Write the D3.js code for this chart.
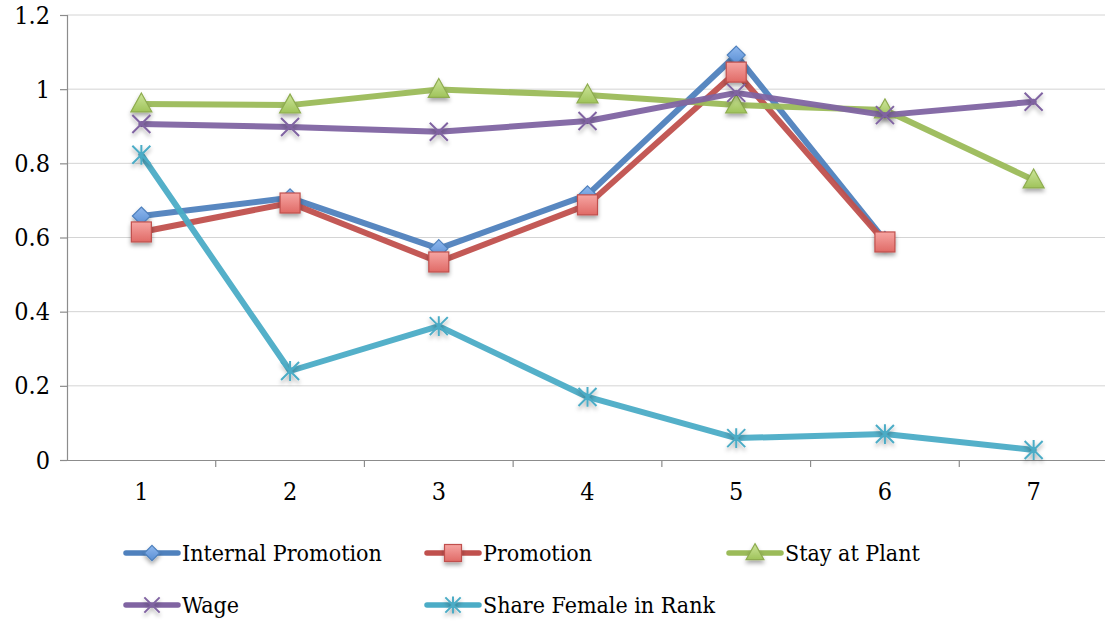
<!DOCTYPE html>
<html>
<head>
<meta charset="utf-8">
<script src="https://cdn.jsdelivr.net/npm/d3@7"></script>
<style>
  html, body { margin: 0; padding: 0; background: #ffffff; }
  svg { display: block; }
</style>
</head>
<body>
<svg id="chart" width="1105" height="621"></svg>
<script>
// Ranks along the horizontal axis
const ranks = [1, 2, 3, 4, 5, 6, 7];
const yTicks = [0, 0.2, 0.4, 0.6, 0.8, 1, 1.2];

// Series values by rank (null = no observation)
const internalPromotion = [0.658, 0.707, 0.570, 0.715, 1.092, 0.592, null];
const promotion         = [0.615, 0.693, 0.534, 0.688, 1.046, 0.588, null];
const stayAtPlant       = [0.960, 0.957, 0.999, 0.984, 0.957, 0.944, 0.755];
const wage              = [0.906, 0.898, 0.885, 0.914, 0.990, 0.930, 0.966];
const shareFemale       = [0.823, 0.240, 0.361, 0.170, 0.059, 0.070, 0.027];

const seriesNames = ["Internal Promotion", "Promotion", "Stay at Plant", "Wage", "Share Female in Rank"];
const seriesValues = [internalPromotion, promotion, stayAtPlant, wage, shareFemale];
const seriesColors = ["#4f81bd", "#c0504d", "#9bbb59", "#8064a2", "#4bacc6"];
const markerFillTop = ["#8fb8ee", "#f6a5a2", "#cde59a", null, null];
const markerFillBottom = ["#5a8fd4", "#e06a66", "#9fc35a", null, null];
const markerTypes = ["diamond", "square", "triangle", "x", "star"];

const FONT = "DejaVu Serif Condensed";

const svg = d3.select("#chart");
const margin = { left: 67, right: 1108, top: 15, bottom: 460 };

const x = d3.scaleBand().domain(ranks).range([margin.left, margin.right]).paddingInner(0).paddingOuter(0);
const y = d3.scaleLinear().domain([0, 1.2]).range([margin.bottom, margin.top]);
const cx = d => x(d) + x.bandwidth() / 2;

const defs = svg.append("defs");
const shadow = defs.append("filter").attr("id", "shadow")
  .attr("x", "-50%").attr("y", "-50%").attr("width", "200%").attr("height", "220%");
shadow.append("feDropShadow").attr("dx", 0).attr("dy", 3).attr("stdDeviation", 2)
  .attr("flood-color", "#000").attr("flood-opacity", 0.35);

seriesColors.forEach((c, i) => {
  if (!markerFillTop[i]) return;
  const g = defs.append("linearGradient").attr("id", "grad" + i)
    .attr("x1", 0).attr("y1", 0).attr("x2", 0).attr("y2", 1);
  g.append("stop").attr("offset", "0%").attr("stop-color", markerFillTop[i]);
  g.append("stop").attr("offset", "100%").attr("stop-color", markerFillBottom[i]);
});

// Horizontal gridlines
svg.append("g").selectAll("line").data(yTicks.filter(t => t > 0)).join("line")
  .attr("x1", margin.left).attr("x2", margin.right)
  .attr("y1", d => y(d)).attr("y2", d => y(d))
  .attr("stroke", "#d4d4d4").attr("stroke-width", 1);

// Y axis
const yAxis = svg.append("g").attr("transform", `translate(${margin.left},0)`)
  .call(d3.axisLeft(y).tickValues(yTicks).tickSize(7).tickPadding(10).tickFormat(d3.format("")));
yAxis.attr("font-family", FONT).attr("font-size", 25);
yAxis.select(".domain").attr("stroke", "#8c8c8c").attr("stroke-width", 1.2);
yAxis.selectAll(".tick line").attr("stroke", "#8c8c8c").attr("stroke-width", 1.2);
yAxis.selectAll(".tick text").attr("fill", "#000");

// X axis with ticks at category boundaries
const xAxis = svg.append("g").attr("transform", `translate(0,${margin.bottom})`)
  .call(d3.axisBottom(x).tickSize(0).tickPadding(22));
xAxis.attr("font-family", FONT).attr("font-size", 25);
xAxis.select(".domain").attr("stroke", "#8c8c8c").attr("stroke-width", 1.2);
xAxis.selectAll(".tick text").attr("fill", "#000");
xAxis.append("g").selectAll("line").data(ranks).join("line")
  .attr("x1", d => x(d) + x.bandwidth()).attr("x2", d => x(d) + x.bandwidth())
  .attr("y1", 0).attr("y2", 7)
  .attr("stroke", "#8c8c8c").attr("stroke-width", 1.2);

// Marker shapes
function drawMarker(g, type, i, px, py, s) {
  const col = seriesColors[i];
  if (type === "diamond") {
    const r = 9 * s;
    g.append("path").attr("d", `M${px},${py - r}L${px + r},${py}L${px},${py + r}L${px - r},${py}Z`)
      .attr("fill", `url(#grad${i})`).attr("stroke", col).attr("stroke-width", 1.2).attr("filter", "url(#shadow)");
  } else if (type === "square") {
    const r = 10 * s;
    g.append("rect").attr("x", px - r).attr("y", py - r).attr("width", 2 * r).attr("height", 2 * r)
      .attr("fill", `url(#grad${i})`).attr("stroke", col).attr("stroke-width", 1.2).attr("filter", "url(#shadow)");
  } else if (type === "triangle") {
    const r = 10.5 * s;
    g.append("path").attr("d", `M${px},${py - r * 1.05}L${px + r},${py + r * 0.75}L${px - r},${py + r * 0.75}Z`)
      .attr("fill", `url(#grad${i})`).attr("stroke", "#8eac4f").attr("stroke-width", 1.2).attr("filter", "url(#shadow)");
  } else if (type === "x") {
    const r = 9 * s;
    g.append("path").attr("d", `M${px - r},${py - r}L${px + r},${py + r}M${px + r},${py - r}L${px - r},${py + r}`)
      .attr("stroke", col).attr("stroke-width", 2).attr("fill", "none").attr("filter", "url(#shadow)");
  } else if (type === "star") {
    const r = 9 * s;
    g.append("path").attr("d",
      `M${px - r},${py - r}L${px + r},${py + r}M${px + r},${py - r}L${px - r},${py + r}M${px},${py - r * 1.1}L${px},${py + r * 1.1}`)
      .attr("stroke", col).attr("stroke-width", 2).attr("fill", "none").attr("filter", "url(#shadow)");
  }
}

// Series lines and markers
const line = d3.line()
  .defined(d => d.v !== null)
  .x(d => cx(d.r)).y(d => y(d.v));

seriesValues.forEach((vals, i) => {
  const pts = ranks.map((r, k) => ({ r, v: vals[k] }));
  const g = svg.append("g");
  g.append("path").datum(pts).attr("d", line)
    .attr("fill", "none").attr("stroke", seriesColors[i]).attr("stroke-width", 6)
    .attr("stroke-linejoin", "round").attr("stroke-linecap", "round")
    .attr("opacity", 0.95);
  pts.filter(p => p.v !== null).forEach(p => drawMarker(g, markerTypes[i], i, cx(p.r), y(p.v), 1));
});

// Legend
const legendPos = [
  { lx: 126, ly: 553 }, { lx: 427, ly: 553 }, { lx: 729, ly: 553 },
  { lx: 126, ly: 605 }, { lx: 427, ly: 605 }
];
const legend = svg.append("g").attr("font-family", FONT).attr("font-size", 23);
seriesNames.forEach((name, i) => {
  const { lx, ly } = legendPos[i];
  const g = legend.append("g");
  g.append("line").attr("x1", lx).attr("x2", lx + 52).attr("y1", ly).attr("y2", ly)
    .attr("stroke", seriesColors[i]).attr("stroke-width", 5.5).attr("stroke-linecap", "round");
  drawMarker(g, markerTypes[i], i, lx + 26, ly, 0.85);
  g.append("text").attr("x", lx + 56).attr("y", ly).attr("dy", "0.35em")
    .attr("fill", "#000").text(name);
});
</script>
</body>
</html>
